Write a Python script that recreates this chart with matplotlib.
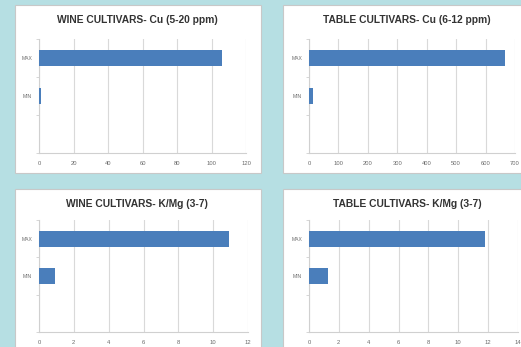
import matplotlib
matplotlib.use("Agg")
import matplotlib.pyplot as plt
from matplotlib.patches import Rectangle

plt.rcParams['font.family'] = ['Liberation Sans', 'DejaVu Sans']

# Category slots, bottom to top (the lowest slot is left empty)
categories = ['', 'MIN', 'MAX']

titles = [
    'WINE CULTIVARS- Cu (5-20 ppm)',
    'TABLE CULTIVARS- Cu (6-12 ppm)',
    'WINE CULTIVARS- K/Mg (3-7)',
    'TABLE CULTIVARS- K/Mg (3-7)',
]
wine_cu = [0, 1, 106]
table_cu = [0, 12, 665]
wine_kmg = [0, 0.9, 10.9]
table_kmg = [0, 1.3, 11.8]

x_limits = [(0, 120), (0, 700), (0, 12), (0, 14)]
x_steps = [20, 100, 2, 2]

W, H = 521, 347
fig = plt.figure(figsize=(W / 100, H / 100), dpi=100)
fig.patch.set_facecolor('#b6dfe3')


def fx(px):
    return px / W


def fy(py):
    return 1 - py / H


# Panels: (left, top, right, bottom) in pixels, plus plot area boxes
panels = [(15, 5, 261, 173), (283, 5, 545, 173), (15, 189, 261, 360), (283, 189, 545, 360)]
plot_boxes = [(39, 39, 246, 153), (309, 39, 515, 153), (39, 220, 248, 332), (309, 220, 518, 332)]
title_pos = [(137, 20), (407, 20), (137, 204), (407, 204)]
series = [wine_cu, table_cu, wine_kmg, table_kmg]

for (l, t, r, b) in panels:
    fig.patches.append(Rectangle((fx(l), fy(b)), fx(r - l), (b - t) / H,
                                 transform=fig.transFigure, facecolor='white',
                                 edgecolor='#c8c8c8', linewidth=0.8, zorder=-5))

for i in range(4):
    l, t, r, b = plot_boxes[i]
    ax = fig.add_axes([fx(l), fy(b), fx(r - l), (b - t) / H], zorder=2)
    ax.set_facecolor('none')
    vals = series[i]
    ypos = list(range(len(categories)))
    ax.barh(ypos, vals, height=0.42, color='#4a7ebb', edgecolor='none', zorder=3)
    lo, hi = x_limits[i]
    ax.set_xlim(lo, hi)
    ax.set_ylim(-0.5, len(categories) - 0.5)
    step = x_steps[i]
    ticks = [lo + k * step for k in range(int((hi - lo) / step) + 1)]
    ax.set_xticks(ticks)
    ax.set_xticklabels([str(v) for v in ticks])
    ax.set_yticks(ypos)
    ax.set_yticklabels(categories)
    ax.set_yticks([k - 0.5 for k in range(len(categories) + 1)], minor=True)
    ax.grid(axis='x', color='#d9d9d9', linewidth=0.8, zorder=0)
    ax.set_axisbelow(True)
    for s in ['top', 'right']:
        ax.spines[s].set_visible(False)
    ax.spines['left'].set_color('#d0d0d0')
    ax.spines['bottom'].set_color('#d0d0d0')
    ax.tick_params(axis='x', length=0, labelsize=4.2, colors='#6a6a6a', pad=6)
    ax.tick_params(axis='y', which='major', length=0, labelsize=3.6, colors='#6a6a6a', pad=5)
    ax.tick_params(axis='y', which='minor', length=2.5, color='#d0d0d0')
    tx, ty = title_pos[i]
    fig.text(fx(tx), fy(ty), titles[i], ha='center', va='center',
             fontsize=7.4, fontweight='bold', color='#333333', zorder=3)

fig.savefig('out.png', dpi=100, facecolor=fig.get_facecolor())
